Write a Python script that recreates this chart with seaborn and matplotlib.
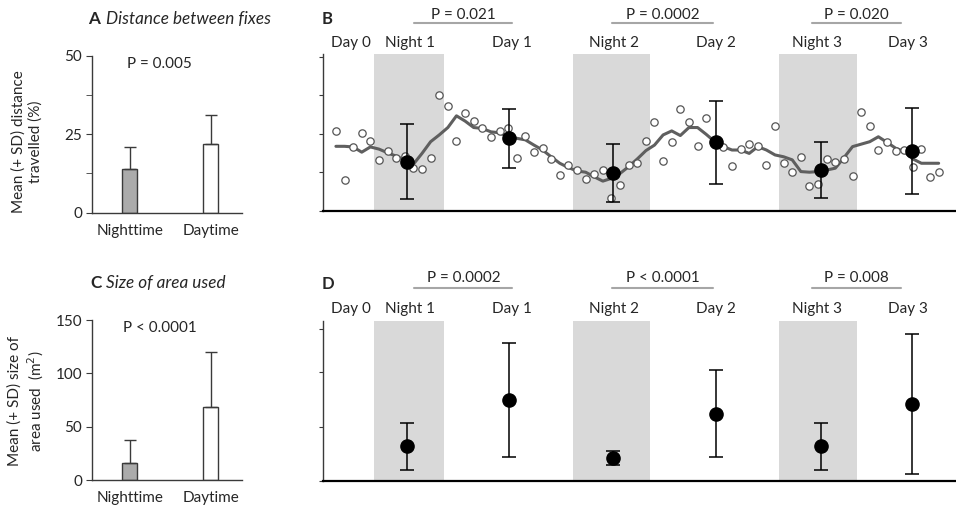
import matplotlib
matplotlib.use("Agg")
import matplotlib.pyplot as plt
import matplotlib.transforms as mtransforms
import numpy as np
import pandas as pd
import seaborn as sns

# panels A and C: nighttime vs daytime (mean + SD)
periods = ["Nighttime", "Daytime"]
dist_mean = [14.0, 21.8]
dist_sd = [6.9, 9.2]
area_mean = [15.5, 68.7]
area_sd = [21.6, 51.6]

# panel B: distance per hourly fix (%) and running mean
fix_dist = [25.8, 10.1, 20.7, 25.1, 22.5, 16.4, 19.4, 17.2, 17.7, 13.8,
            13.6, 17.2, 37.5, 34.1, 22.7, 31.6, 29.1, 27.0, 23.8, 26.0,
            26.8, 17.2, 24.4, 19.2, 20.5, 16.9, 11.7, 14.8, 13.1, 10.3,
            11.9, 13.2, 4.0, 8.3, 14.8, 15.4, 22.6, 28.8, 16.0, 22.2,
            33.0, 28.8, 21.1, 30.1, 22.2, 20.8, 14.5, 19.9, 21.8, 20.9,
            14.8, 27.5, 15.5, 12.5, 17.5, 8.0, 8.7, 16.7, 15.8, 16.8,
            11.3, 32.1, 27.5, 19.6, 22.4, 19.3, 19.8, 14.2, 20.0, 10.9,
            12.5]
run_mean = [20.9, 20.9, 20.7, 19.0, 20.7, 20.0, 18.8, 17.7, 16.5, 15.1,
            18.6, 22.4, 24.6, 27.0, 30.8, 29.1, 27.0, 26.7, 25.6, 25.3,
            24.0, 23.5, 23.0, 21.3, 19.7, 17.5, 15.4, 14.0, 12.9, 12.5,
            11.0, 9.6, 10.5, 12.1, 14.3, 16.8, 19.5, 21.3, 24.6, 25.9,
            24.4, 27.0, 27.0, 24.8, 22.4, 20.8, 19.7, 19.7, 18.6, 20.8,
            19.7, 18.1, 17.5, 16.5, 12.7, 12.5, 12.7, 13.2, 13.8, 17.2,
            20.8, 21.6, 22.4, 24.0, 22.2, 20.3, 19.2, 16.8, 15.4, 15.4,
            15.4]
hours = list(range(len(fix_dist)))

# period summaries for B and D (hour of fix at the middle of each period)
period_names = ["Day 0", "Night 1", "Day 1", "Night 2", "Day 2", "Night 3", "Day 3"]
period_label_hour = [1.7, 8.6, 20.4, 32.3, 44.1, 55.9, 66.4]
mean_hour = [8.3, 20.1, 32.2, 44.2, 56.3, 66.9]
b_mean = [15.9, 23.5, 12.3, 22.2, 13.2, 19.4]
b_sd = [12.1, 9.5, 9.4, 13.4, 9.0, 13.9]
d_mean = [31.9, 74.2, 21.2, 61.7, 31.9, 70.6]
d_sd = [21.8, 52.5, 6.5, 40.0, 21.8, 64.0]

night_start = [4.4, 27.5, 51.5]
night_end = [12.5, 36.5, 60.5]

p_b = ["P = 0.021", "P = 0.0002", "P = 0.020"]
p_d = ["P = 0.0002", "P < 0.0001", "P = 0.008"]
p_from = [9.1, 32.1, 55.3]
p_to = [20.5, 43.8, 65.6]

sns.set_style("white")
plt.rcParams["font.family"] = ["Lato", "DejaVu Sans"]
plt.rcParams["font.size"] = 10.5

W, H = 956, 514
fig = plt.figure(figsize=(W / 100, H / 100), dpi=100)


def px_axes(left, top, right, bottom):
    return fig.add_axes([left / W, 1 - bottom / H, (right - left) / W, (bottom - top) / H])


def bar_panel(ax, means, sds, ymax, ticks, minor, ptext):
    df = pd.DataFrame({"period": periods, "value": means})
    sns.barplot(data=df, x="period", y="value", ax=ax, width=0.19,
                palette=["#ababab", "white"], hue="period", legend=False,
                edgecolor="#3a3a3a", linewidth=1.0, errorbar=None)
    ax.errorbar([0, 1], means, yerr=[[0, 0], sds], fmt="none", ecolor="#3a3a3a",
                elinewidth=1.0, capsize=4.5, capthick=1.0)
    ax.set_xlim(-0.465, 1.387)
    ax.set_ylim(0, ymax)
    ax.set_yticks(ticks)
    ax.set_yticks(minor, minor=True)
    ax.set_xticks([0.457], minor=True)
    ax.tick_params(axis="x", which="major", length=0, pad=8, labelsize=11)
    ax.tick_params(axis="x", which="minor", length=3, direction="out", color="#3a3a3a")
    ax.tick_params(axis="y", which="both", length=4, direction="out", color="#3a3a3a",
                   labelsize=11, pad=3, left=True)
    ax.set_xlabel("")
    ax.set_ylabel("")
    sns.despine(ax=ax)
    for s in ["left", "bottom"]:
        ax.spines[s].set_color("#3a3a3a")
        ax.spines[s].set_linewidth(1.0)
    ax.text(0.45, 0.95, ptext, transform=ax.transAxes, ha="center", va="center", fontsize=11)


# ---- A
axA = px_axes(92, 55.7, 242, 212.7)
bar_panel(axA, dist_mean, dist_sd, 50, [0, 25, 50], [12.5, 37.5], "P = 0.005")
fig.text(88 / W, 1 - 19 / H, "A", fontweight="bold", fontsize=12.3, va="center")
fig.text(106 / W, 1 - 19 / H, "Distance between fixes", style="italic", fontsize=12.3, va="center")
fig.text(27 / W, 1 - 142 / H, "Mean (+ SD) distance\ntravelled (%)", rotation=90,
         ha="center", va="center", multialignment="center", fontsize=11, linespacing=1.25)

# ---- C
axC = px_axes(92, 320, 242, 480)
bar_panel(axC, area_mean, area_sd, 150, [0, 50, 100, 150], [], "P < 0.0001")
fig.text(90 / W, 1 - 283 / H, "C", fontweight="bold", fontsize=12.3, va="center")
fig.text(106 / W, 1 - 283 / H, "Size of area used", style="italic", fontsize=12.3, va="center")
fig.text(27 / W, 1 - 401 / H, "Mean (+ SD) size of\narea used  (m$^2$)", rotation=90,
         ha="center", va="center", multialignment="center", fontsize=11, linespacing=1.25)


def time_panel(ax, ymax, ticks, means, sds, pvals, letter, y_letter, y_p, y_bar, y_lab):
    for a, b in zip(night_start, night_end):
        ax.axvspan(a, b, color="#d9d9d9", lw=0, zorder=0)
    ax.errorbar(mean_hour, means, yerr=sds, fmt="o", color="black", ms=9.5,
                elinewidth=1.1, capsize=5, capthick=1.1, zorder=5)
    ax.set_xlim(-1.5, 71.9)
    ax.set_ylim(0, ymax)
    ax.set_yticks(ticks)
    ax.set_yticklabels([])
    ax.set_xticks([])
    ax.tick_params(axis="y", length=3, direction="out", color="#3a3a3a", left=True)
    sns.despine(ax=ax)
    ax.spines["left"].set_color("#3a3a3a")
    ax.spines["left"].set_linewidth(1.0)
    ax.spines["bottom"].set_color("black")
    ax.spines["bottom"].set_linewidth(1.6)
    tr = mtransforms.blended_transform_factory(ax.transData, fig.transFigure)
    for name, h in zip(period_names, period_label_hour):
        ax.text(h, 1 - y_lab / H, name, transform=tr, ha="center", va="center", fontsize=11)
    for txt, a, b in zip(pvals, p_from, p_to):
        ax.plot([a, b], [1 - y_bar / H] * 2, transform=tr, color="#a6a6a6", lw=1.5,
                clip_on=False)
        ax.text((a + b) / 2, 1 - y_p / H, txt, transform=tr, ha="center", va="center",
                fontsize=11)
    fig.text(322 / W, 1 - y_letter / H, letter, fontweight="bold", fontsize=12, va="center")


# ---- B
axB = px_axes(323, 53.6, 955, 210.7)
sns.lineplot(x=hours, y=run_mean, ax=axB, color="#5f5f5f", lw=2.2, zorder=2)
sns.scatterplot(x=hours, y=fix_dist, ax=axB, marker="o", s=28, facecolor="white",
                edgecolor="#555555", linewidth=0.9, zorder=3)
time_panel(axB, 51, [0, 12.5, 25, 37.5, 50], b_mean, b_sd, p_b, "B", 19, 15, 22.5, 43.5)

# ---- D
axD = px_axes(323, 321, 955, 481)
time_panel(axD, 147, [0, 50, 100, 140], d_mean, d_sd, p_d, "D", 284, 278, 287.5, 308.5)

fig.savefig("out.png", dpi=100)
